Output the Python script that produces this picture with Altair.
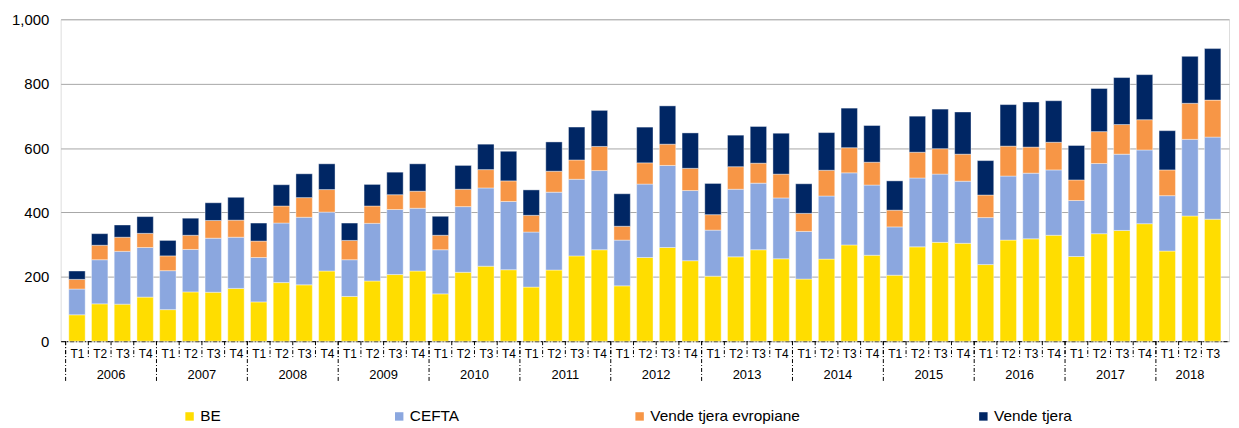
import altair as alt
import pandas as pd

# ---------------- data ----------------
years = ["2006", "2007", "2008", "2009", "2010", "2011", "2012",
         "2013", "2014", "2015", "2016", "2017", "2018"]
quarters = ["T1", "T2", "T3", "T4"]
series_names = ["BE", "CEFTA", "Vende tjera evropiane", "Vende tjera"]
series_colors = ["#FFDD00", "#8BA7DF", "#F79646", "#002664"]

be = [82, 116, 115, 137, 98, 153, 152, 164, 122, 182, 175, 218,
      139, 187, 207, 218, 147, 214, 233, 222, 168, 221, 265, 284,
      172, 260, 291, 250, 202, 262, 284, 256, 193, 255, 299, 267,
      205, 293, 307, 304, 238, 314, 318, 329, 263, 334, 344, 365,
      280, 389, 379]
cefta = [80, 137, 164, 154, 121, 132, 168, 159, 138, 185, 210, 183,
         114, 179, 202, 195, 137, 204, 243, 212, 171, 242, 238, 246,
         142, 228, 255, 218, 143, 210, 207, 189, 148, 196, 224, 218,
         150, 214, 212, 193, 146, 199, 204, 203, 174, 218, 237, 229,
         172, 238, 255]
evropiane = [30, 45, 44, 44, 46, 44, 55, 53, 51, 53, 61, 70,
             60, 54, 46, 53, 45, 54, 57, 64, 52, 65, 60, 75,
             43, 66, 66, 69, 48, 70, 62, 74, 56, 80, 78, 71,
             52, 80, 79, 84, 70, 93, 81, 86, 64, 99, 92, 94,
             80, 112, 115]
tjera = [26, 36, 38, 52, 48, 53, 55, 71, 56, 66, 74, 80,
         54, 67, 70, 85, 59, 74, 79, 92, 79, 91, 102, 112,
         101, 111, 119, 110, 97, 98, 114, 127, 92, 117, 123, 114,
         91, 112, 123, 131, 107, 129, 140, 129, 107, 134, 146, 140,
         122, 146, 160]

n_periods = len(be)
periods = [(y, q) for y in years for q in quarters][:n_periods]
period_labels = [q for _, q in periods]

rows = []
for order, (name, vals) in enumerate(zip(series_names, [be, cefta, evropiane, tjera])):
    for i, v in enumerate(vals):
        rows.append({"idx": i, "year": periods[i][0], "quarter": periods[i][1],
                     "series": name, "order": order, "value": v})
df = pd.DataFrame(rows)

year_rows = []
for y in years:
    idxs = [i for i, (yy, _) in enumerate(periods) if yy == y]
    year_rows.append({"year": y, "first": idxs[0], "n": len(idxs)})
years_df = pd.DataFrame(year_rows)

bounds_df = pd.DataFrame({"b": list(range(n_periods)),
                          "year_start": [q == quarters[0] for _, q in periods]})

# ---------------- chart ----------------
W, H = 1176, 324
FONT = "Liberation Sans"
dash = [4, 2, 1, 2]

x_scale = alt.Scale(domain=[0, n_periods], nice=False, zero=False)
label_expr = "[" + ",".join("'%s'" % s for s in period_labels) + "][floor(datum.value)]"
x_axis = alt.Axis(values=[i + 0.5 for i in range(n_periods)], labelExpr=label_expr,
                  title=None, grid=False, ticks=False, domain=True,
                  domainColor="#000000", domainDash=dash, domainWidth=1,
                  labelFontSize=12, labelColor="#000000", labelPadding=7,
                  labelFont=FONT)
y_scale = alt.Scale(domain=[0, 1000], nice=False)
y_axis = alt.Axis(values=[0, 200, 400, 600, 800, 1000], format=",.0f", title=None,
                  domain=False, ticks=False, grid=True, gridColor="#A6A6A6",
                  gridWidth=1, labelFontSize=15, labelColor="#000000",
                  labelPadding=12, labelFont=FONT)

base = (alt.Chart(df)
        .transform_calculate(pos="datum.idx + 0.5")
        .transform_stack(stack="value", groupby=["idx"],
                         sort=[alt.SortField("order", order="ascending")],
                         as_=["y0", "y1"]))

legend_x = [122, 333, 575, 921]
layers = []
for name, col, lx in zip(series_names, series_colors, legend_x):
    layers.append(
        base.transform_filter(alt.datum.series == name)
        .mark_bar(size=16.5, stroke="#FFFFFF", strokeWidth=0.4)
        .encode(
            x=alt.X("pos:Q", scale=x_scale, axis=x_axis),
            y=alt.Y("y1:Q", scale=y_scale, axis=y_axis),
            y2="y0:Q",
            color=alt.Color("series:N",
                            scale=alt.Scale(domain=[name], range=[col]),
                            legend=alt.Legend(orient="none", legendX=lx, legendY=392,
                                              title=None, symbolType="square",
                                              symbolSize=72, symbolStrokeWidth=0,
                                              labelFontSize=15.5, labelFont=FONT,
                                              labelColor="#000000", labelOffset=3)),
        )
    )

sep_q = (alt.Chart(bounds_df)
         .mark_rule(color="#000000", strokeWidth=1, strokeDash=dash)
         .encode(x=alt.X("b:Q", scale=x_scale, axis=x_axis),
                 y=alt.value(H), y2=alt.value(H + 18)))
sep_y = (alt.Chart(bounds_df)
         .transform_filter(alt.datum.year_start)
         .mark_rule(color="#000000", strokeWidth=1, strokeDash=dash)
         .encode(x=alt.X("b:Q", scale=x_scale, axis=x_axis),
                 y=alt.value(H), y2=alt.value(H + 41)))
year_text = (alt.Chart(years_df)
             .transform_calculate(mid="datum.first + datum.n / 2")
             .mark_text(fontSize=13, font=FONT, color="#000000", baseline="middle")
             .encode(x=alt.X("mid:Q", scale=x_scale, axis=x_axis),
                     y=alt.value(H + 34), text="year:N"))

chart = (alt.layer(*layers, sep_q, sep_y, year_text)
         .resolve_scale(color="independent")
         .properties(width=W, height=H,
                     autosize=alt.AutoSizeParams(type="none"),
                     padding={"left": 53, "top": 10, "right": 2, "bottom": 82})
         .configure_view(stroke=None)
         .configure(background="#FFFFFF"))

chart.save("out.html", embed_options={"renderer": "svg", "actions": False})
